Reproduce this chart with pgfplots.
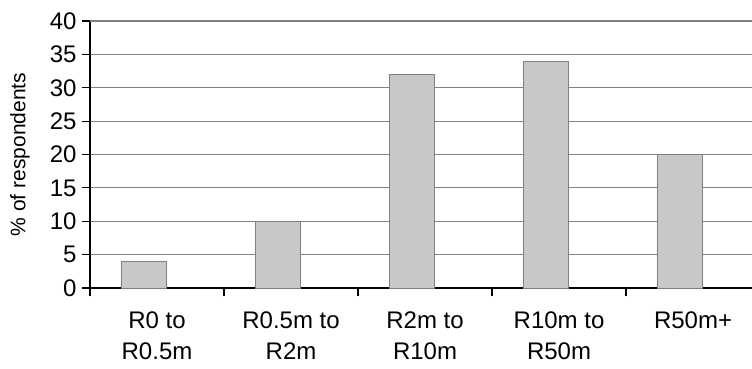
\documentclass[border=0pt]{standalone}
\usepackage{fontspec}
\setmainfont{Liberation Sans}
\usepackage{pgfplots}
\pgfplotsset{compat=1.18}
\definecolor{barfill}{RGB}{200,200,200}
\definecolor{baredge}{RGB}{128,128,128}
\definecolor{gridgray}{RGB}{128,128,128}
\begin{document}
\begin{tikzpicture}
\begin{axis}[
  scale only axis, width=662pt, height=267pt,
  xmin=-0.5, xmax=4.44, ymin=0, ymax=40,
  axis x line*=bottom, axis y line*=left,
  axis line style={black, line width=1.6pt},
  /pgf/number format/assume math mode=true,
  ticklabel style={font=\fontsize{24}{31}\selectfont},
  ytick={0,5,...,40},
  ymajorgrids, grid style={gridgray, line width=0.9pt},
  tick style={black, line width=1.1pt},
  tick align=outside, major tick length=8pt,
  xtick={-0.5,0.5,1.5,2.5,3.5}, xticklabels={},
  extra x ticks={0,1,2,3,4},
  extra x tick labels={{R0 to\\R0.5m},{R0.5m to\\R2m},{R2m to\\R10m},{R10m to\\R50m},{R50m+}},
  extra x tick style={major tick length=0pt, grid=none,
    xticklabel style={align=center, anchor=north, yshift=-20pt}},
  yticklabel style={xshift=-2pt},
  every axis y label/.style={at={(rel axis cs:0,0.5)}, anchor=center, rotate=90, yshift=70pt},
  ylabel={\% of respondents},
  ylabel style={font=\fontsize{21}{25}\selectfont},
]
\addplot[ybar, bar width=45pt, bar shift=-13pt, fill=barfill, draw=baredge, line width=1pt]
  coordinates {(0,4) (1,10) (2,32) (3,34) (4,20)};
\draw[gridgray, line width=2pt] (rel axis cs:0,1) -- (rel axis cs:1,1);
\coordinate (O) at (rel axis cs:0,0);
\end{axis}
\pgfresetboundingbox
\path (O) ++(-90pt,-81pt) rectangle ++(752pt,369pt);
\end{tikzpicture}
\end{document}
